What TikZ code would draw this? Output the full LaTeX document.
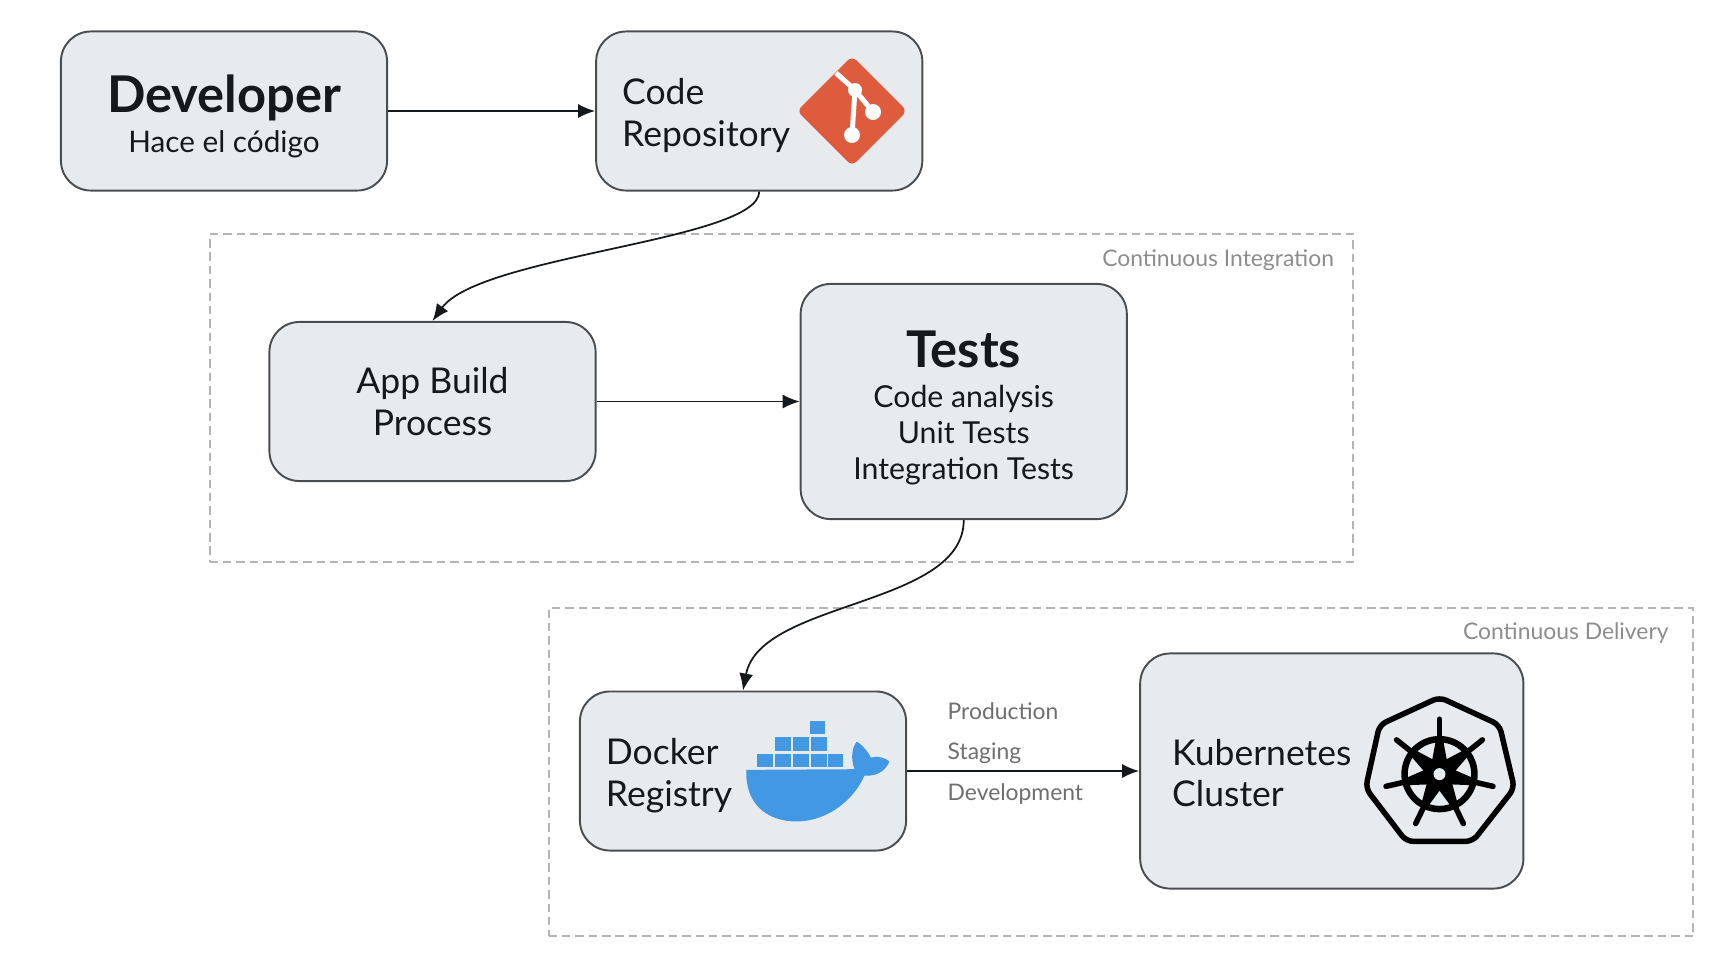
\documentclass[tikz,border=0pt]{standalone}
\usepackage{fontspec}
\setmainfont{Lato}
\usepackage{xcolor}
\usetikzlibrary{arrows.meta,positioning}
\definecolor{boxfill}{HTML}{E8EBED}
\definecolor{boxline}{HTML}{4A4D50}
\definecolor{stageline}{HTML}{B4B4B4}
\definecolor{stagetext}{HTML}{8C8C8C}
\definecolor{linktext}{HTML}{6E6E6E}
\definecolor{inktext}{HTML}{16191C}
\definecolor{gitred}{HTML}{DE5B3D}
\definecolor{dockerblue}{HTML}{4298E2}
\newcommand{\headfont}{\fontsize{14.4}{16}\bfseries\selectfont}
\newcommand{\bodyfont}{\fontsize{10.1}{11.9}\selectfont}
\newcommand{\subfont}{\fontsize{8.6}{10.24}\selectfont}
\newcommand{\tagfont}{\fontsize{6.5}{8}\selectfont}
\newcommand{\dropline}[1]{\rule{0pt}{#1}}

\begin{document}
\begin{tikzpicture}[x=0.01cm,y=-0.01cm,text=inktext,
    box/.style={draw=boxline,fill=boxfill,line width=0.55pt,rounded corners=0.3cm,
      minimum width=3.26cm,minimum height=1.59cm,align=center,inner sep=0pt},
    logobox/.style={box,align=left,text width=2.74cm,inner xsep=0.26cm,font=\bodyfont},
    stage/.style={draw=stageline,dash pattern=on 2.4pt off 1.4pt,line width=0.6pt,inner sep=0pt},
    stagetag/.style={text=stagetext,font=\tagfont,anchor=north east},
    linktag/.style={text=linktext,font=\tagfont,anchor=west,inner sep=0pt},
    flow/.style={-{Latex[length=0.17cm,width=0.14cm]},draw=inktext,line width=0.5pt}]
  \useasboundingbox (0,0) rectangle (1736,960);
  % stages
  \node[stage,minimum width=11.43cm,minimum height=3.27cm] (ci) at (781.5,398) {};
  \node[stage,minimum width=11.44cm,minimum height=3.28cm] (cd) at (1121,772) {};
  \node[stagetag,xshift=-0.08cm,yshift=-0.04cm] (citag) at (ci.north east) {Continuous Integration};
  \node[stagetag,xshift=-0.134cm,yshift=-0.03cm] (cdtag) at (cd.north east) {Continuous Delivery};
  % boxes
  \node[box,font=\fontsize{8.45}{10.24}\selectfont] (dev) at (224,111)
    {\dropline{13.8pt}{\headfont Developer}\\[1.2pt]Hace el código};
  \node[logobox,right=2.07cm of dev] (repo) {\dropline{10.2pt}Code\\Repository};
  \node[box,font=\bodyfont] (app) at (432.5,401.5) {App Build\\Process};
  \node[box,font=\subfont,minimum height=2.35cm,right=2.03cm of app] (tests)
    {\dropline{14.2pt}{\headfont Tests}\\[1.2pt]Code analysis\\Unit Tests\\Integration Tests};
  \node[logobox] (docker) at (743,771) {\dropline{10pt}Docker\\Registry};
  \node[logobox,minimum width=3.83cm,minimum height=2.35cm,text width=3.19cm,inner xsep=0.32cm,
    right=2.32cm of docker] (k8s) {\dropline{8.6pt}Kubernetes\\Cluster};
  % links
  \draw[flow] (dev) -- (repo);
  \draw[flow] (app) -- (tests);
  \draw[flow] (docker) -- (k8s);
  \draw[flow] (repo.south) .. controls +(0,49) and (480,255) .. (app.north);
  \draw[flow] (tests.south) .. controls +(0,87) and (760,600) .. (docker.north);
  \node[linktag] (prod) at (947,711) {Production};
  \node[linktag] (stag) at (947,753) {Staging};
  \node[linktag] (deve) at (947,794) {Development};
  % git logo
  \begin{scope}[shift={(852,111)}]
    \fill[gitred,rounded corners=0.06cm] (-55,0) -- (0,-55) -- (55,0) -- (0,55) -- cycle;
    \draw[white,line width=0.05cm] (-16,-38) -- (3,-21) -- (21,1);
    \draw[white,line width=0.05cm] (3,-21) -- (0,24);
    \fill[white] (3,-21) circle (7) (21,1) circle (8) (0,24) circle (8);
  \end{scope}
  % docker logo
  \begin{scope}[shift={(570,680)},x=0.00333cm,y=-0.00333cm]
    \fill[dockerblue] (530,270) -- (855,268) .. controls (842,235) and (848,200) .. (862,185)
      .. controls (882,198) and (900,222) .. (904,233) .. controls (925,226) and (950,235) .. (960,245)
      .. controls (945,280) and (912,290) .. (885,287) .. controls (850,365) and (770,425) .. (680,425)
      .. controls (590,425) and (525,370) .. (530,270) -- cycle;
    \foreach \cx/\cy in {563/222,617/222,671/222,725/222,775/222,617/172,671/172,725/172,720/122}
      \fill[dockerblue] (\cx,\cy) rectangle ++(46,40);
  \end{scope}
  % k8s logo
  \begin{scope}[shift={(1130,640)},x=0.00333cm,y=-0.00333cm]
    \draw[black,line width=0.055cm,rounded corners=0.07cm] (930,172) -- (1110,255) -- (1155,445)
      -- (1030,605) -- (830,605) -- (708,445) -- (750,255) -- cycle;
    \begin{scope}[shift={(930,403)}]
      \draw[black,line width=0.065cm] (0,0) circle (105);
      \foreach \n in {0,...,6}{
        \begin{scope}[rotate=90+\n*360/7]
          \fill[black] (0,-30) -- (112,-9) -- (112,9) -- (0,30) -- cycle;
          \draw[black,line width=0.055cm,line cap=round] (0,0) -- (165,0);
        \end{scope}
      }
      \fill[black] (0,0) circle (40);
      \fill[boxfill] (0,0) circle (18);
    \end{scope}
  \end{scope}
\end{tikzpicture}
\end{document}
